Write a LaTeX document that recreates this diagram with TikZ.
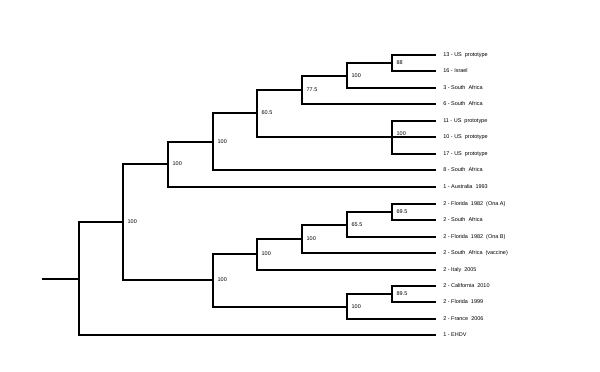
\documentclass[tikz,border=0pt]{standalone}
\usepackage{fontspec}
\setmainfont{Liberation Sans}
\usepackage{tikz}
\usetikzlibrary{positioning}

\newcommand{\wsp}{\hspace{0.55em}}

\begin{document}
\begin{tikzpicture}[x=0.025cm,y=-0.025cm]
\useasboundingbox (0,0) rectangle (600,372);
% leaves
\begin{scope}[every node/.style={anchor=west,inner xsep=0.175cm,inner ysep=0pt,
              font=\fontsize{3.9}{4.5}\selectfont}]
    \node (t1)  at (436,55)  {13 - US\wsp prototype};
    \node (t2)  at (436,71)  {16 - Israel};
    \node (t3)  at (436,88)  {3 - South\wsp Africa};
    \node (t4)  at (436,104) {6 - South\wsp Africa};
    \node (t5)  at (436,121) {11 - US\wsp prototype};
    \node (t6)  at (436,137) {10 - US\wsp prototype};
    \node (t7)  at (436,154) {17 - US\wsp prototype};
    \node (t8)  at (436,170) {8 - South\wsp Africa};
    \node (t9)  at (436,187) {1 - Australia\wsp 1993};
    \node (t10) at (436,204) {2 - Florida\wsp 1982\wsp (Ona A)};
    \node (t11) at (436,220) {2 - South\wsp Africa};
    \node (t12) at (436,237) {2 - Florida\wsp 1982\wsp (Ona B)};
    \node (t13) at (436,253) {2 - South\wsp Africa\wsp (vaccine)};
    \node (t14) at (436,270) {2 - Italy\wsp 2005};
    \node (t15) at (436,286) {2 - California\wsp 2010};
    \node (t16) at (436,302) {2 - Florida\wsp 1999};
    \node (t17) at (436,319) {2 - France\wsp 2006};
    \node (t18) at (436,335) {1 - EHDV};
\end{scope}
% internal nodes
\coordinate (stub) at (42,279);
\coordinate (R) at (79,279);
\coordinate (A) at (123,222);
\coordinate (B) at (168,164);
\coordinate (C) at (213,280);
\coordinate (D) at (213,142);
\coordinate (E) at (257,113);
\coordinate (F) at (302,90);
\coordinate (G) at (392,137);
\coordinate (H) at (347,76);
\coordinate (I) at (392,63);
\coordinate (J) at (257,254);
\coordinate (K) at (347,307);
\coordinate (L) at (302,239);
\coordinate (M) at (347,225);
\coordinate (N) at (392,212);
\coordinate (O) at (392,294);
% branches
\begin{scope}[line width=1.4pt]
    \draw (stub) -- (R);
    \draw (R) |- (A);  \draw (R) |- (t18.west);
    \draw (A) |- (B);  \draw (A) |- (C);
    \draw (B) |- (D);  \draw (B) |- (t9.west);
    \draw (D) |- (E);  \draw (D) |- (t8.west);
    \draw (E) |- (F);  \draw (E) |- (G);
    \draw (F) |- (H);  \draw (F) |- (t4.west);
    \draw (H) |- (I);  \draw (H) |- (t3.west);
    \draw (I) |- (t1.west);  \draw (I) |- (t2.west);
    \draw (G) |- (t5.west);  \draw (G) -- (t6.west);  \draw (G) |- (t7.west);
    \draw (C) |- (J);  \draw (C) |- (K);
    \draw (J) |- (L);  \draw (J) |- (t14.west);
    \draw (L) |- (M);  \draw (L) |- (t13.west);
    \draw (M) |- (N);  \draw (M) |- (t12.west);
    \draw (N) |- (t10.west);  \draw (N) |- (t11.west);
    \draw (K) |- (O);  \draw (K) |- (t17.west);
    \draw (O) |- (t15.west);  \draw (O) |- (t16.west);
\end{scope}
% support values
\begin{scope}[every node/.style={anchor=west,inner xsep=0.11cm,inner ysep=1pt,
              font=\fontsize{3.9}{4.5}\selectfont}]
    \node (sA) at (A) {100};
    \node (sB) at (B) {100};
    \node (sC) at (C) {100};
    \node (sD) at (D) {100};
    \node (sE) at (E) {60.5};
    \node (sF) at (F) {77.5};
    \node (sG) [anchor=south west] at (G) {100};
    \node (sH) at (H) {100};
    \node (sI) at (I) {88};
    \node (sJ) at (J) {100};
    \node (sK) at (K) {100};
    \node (sL) at (L) {100};
    \node (sM) at (M) {65.5};
    \node (sN) at (N) {69.5};
    \node (sO) at (O) {89.5};
\end{scope}
\end{tikzpicture}
\end{document}
